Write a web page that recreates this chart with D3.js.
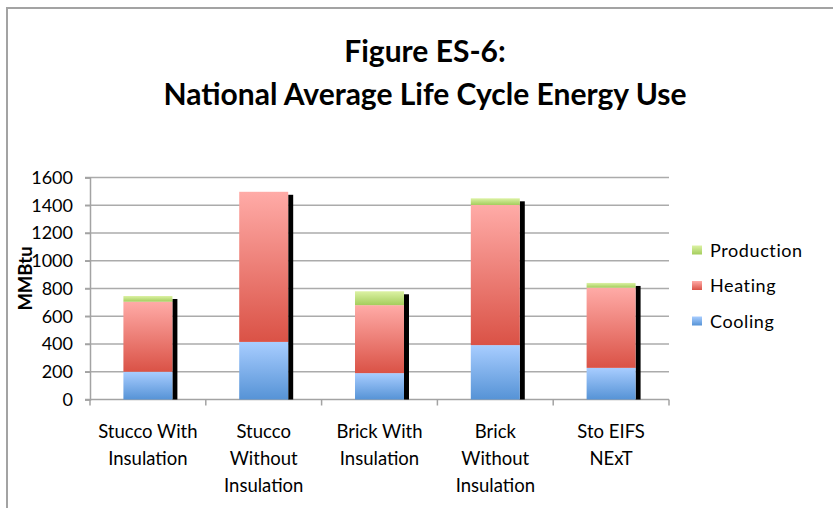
<!DOCTYPE html>
<html>
<head>
<meta charset="utf-8">
<script src="https://cdn.jsdelivr.net/npm/d3@7"></script>
<style>
  html, body { margin: 0; padding: 0; background: #fff; }
  svg { display: block; font-family: Lato, "Open Sans", sans-serif; }
</style>
</head>
<body>
<svg id="chart" width="833" height="508"></svg>
<script>
const titleLines = ["Figure ES-6:", "National Average Life Cycle Energy Use"];
const categories = ["Stucco With\nInsulation", "Stucco\nWithout\nInsulation", "Brick With\nInsulation", "Brick\nWithout\nInsulation", "Sto EIFS\nNExT"];
const seriesNames = ["Cooling", "Heating", "Production"];
const cooling = [200, 415, 190, 392, 228];
const heating = [505, 1082, 490, 1010, 578];
const production = [41, 0, 100, 48, 34];
const yTicks = [0, 200, 400, 600, 800, 1000, 1200, 1400, 1600];
const yLabel = "MMBtu";
const legendOrder = ["Production", "Heating", "Cooling"];

const gradients = {
  Cooling: ["#a8cdff", "#5693d6"],
  Heating: ["#ffaba7", "#da5246"],
  Production: ["#dcf2a4", "#a4cd5c"]
};

const svg = d3.select("#chart");

// outer frame
svg.append("path")
  .attr("d", "M7,508 V8 H833")
  .attr("fill", "none").attr("stroke", "#a3a3a3").attr("stroke-width", 2);

const defs = svg.append("defs");
Object.entries(gradients).forEach(([k, [c0, c1]]) => {
  const g = defs.append("linearGradient").attr("id", "g-" + k)
    .attr("x1", 0).attr("y1", 0).attr("x2", 0).attr("y2", 1);
  g.append("stop").attr("offset", "0%").attr("stop-color", c0);
  g.append("stop").attr("offset", "100%").attr("stop-color", c1);
});

// title
svg.append("g").selectAll("text").data(titleLines).join("text")
  .attr("x", 425).attr("y", (d, i) => 62 + i * 43)
  .attr("text-anchor", "middle")
  .attr("font-weight", "bold").attr("font-size", 30).attr("fill", "#000")
  .text(d => d);

const x0 = 90, x1 = 669, yb = 399.5, yt = 177.5;
const x = d3.scaleBand().domain(categories).range([x0, x1]).paddingInner(0.577).paddingOuter(0.2885);
const y = d3.scaleLinear().domain([0, 1600]).range([yb, yt]);

// gridlines
svg.append("g").selectAll("line").data(yTicks.slice(1)).join("line")
  .attr("x1", x0 - 5).attr("x2", x1)
  .attr("y1", d => y(d)).attr("y2", d => y(d))
  .attr("stroke", "#ababab").attr("stroke-width", 1.5);

// y axis
const yAxis = svg.append("g").attr("transform", `translate(${x0},0)`)
  .call(d3.axisLeft(y).tickValues(yTicks).tickSize(5).tickPadding(12).tickFormat(d3.format("d")));
yAxis.select(".domain").attr("stroke", "#a3a3a3").attr("stroke-width", 1.5);
yAxis.selectAll(".tick line").attr("stroke", "#a3a3a3").attr("stroke-width", 1.5);
yAxis.selectAll(".tick text").attr("font-size", 18).attr("fill", "#000").attr("font-family", "Lato");

// y label
svg.append("text")
  .attr("transform", `translate(32,${(yb + yt) / 2 - 10}) rotate(-90)`)
  .attr("text-anchor", "middle").attr("font-weight", "bold").attr("font-size", 18.5)
  .text(yLabel);

// x axis
const xAxisG = svg.append("g").attr("transform", `translate(0,${yb})`);
xAxisG.append("line").attr("x1", x0 - 5).attr("x2", x1).attr("stroke", "#a3a3a3").attr("stroke-width", 1.5);
const bounds = d3.range(categories.length + 1).map(i => x0 + i * (x1 - x0) / categories.length);
xAxisG.selectAll("line.tk").data(bounds).join("line").attr("class", "tk")
  .attr("x1", d => d).attr("x2", d => d).attr("y1", 0).attr("y2", 6)
  .attr("stroke", "#a3a3a3").attr("stroke-width", 1.5);

const labels = xAxisG.selectAll("text.cat").data(categories).join("text").attr("class", "cat")
  .attr("text-anchor", "middle").attr("font-size", 18.5).attr("fill", "#000");
labels.each(function (d) {
  const t = d3.select(this);
  const cx = x(d) + x.bandwidth() / 2;
  d.split("\n").forEach((line, i) => {
    t.append("tspan").attr("x", cx).attr("y", 38 + i * 27).text(line);
  });
});

// stack
const rows = categories.map((c, i) => ({ cat: c, Cooling: cooling[i], Heating: heating[i], Production: production[i] }));
const stack = d3.stack().keys(seriesNames)(rows);
const totals = rows.map(r => r.Cooling + r.Heating + r.Production);

// shadows
svg.append("g").selectAll("rect").data(rows).join("rect")
  .attr("x", (d) => x(d.cat) + x.bandwidth())
  .attr("width", 5)
  .attr("y", (d, i) => y(totals[i]) + 3)
  .attr("height", (d, i) => yb - y(totals[i]) - 3)
  .attr("fill", "#000");

// bars
svg.append("g").selectAll("g").data(stack).join("g")
  .attr("fill", s => `url(#g-${s.key})`)
  .selectAll("rect").data(s => s.filter(p => p[1] - p[0] > 0)).join("rect")
  .attr("x", p => x(p.data.cat))
  .attr("width", x.bandwidth())
  .attr("y", p => y(p[1]))
  .attr("height", p => y(p[0]) - y(p[1]));

// legend
const lg = svg.append("g").selectAll("g").data(legendOrder).join("g")
  .attr("transform", (d, i) => `translate(692,${250 + i * 35.5})`);
lg.append("rect").attr("x", 0).attr("y", -4.5).attr("width", 10).attr("height", 9)
  .attr("fill", d => `url(#g-${d})`);
lg.append("text").attr("x", 18).attr("y", 6.5).attr("font-size", 18).attr("fill", "#000")
  .attr("letter-spacing", 0.6).text(d => d);
</script>
</body>
</html>
